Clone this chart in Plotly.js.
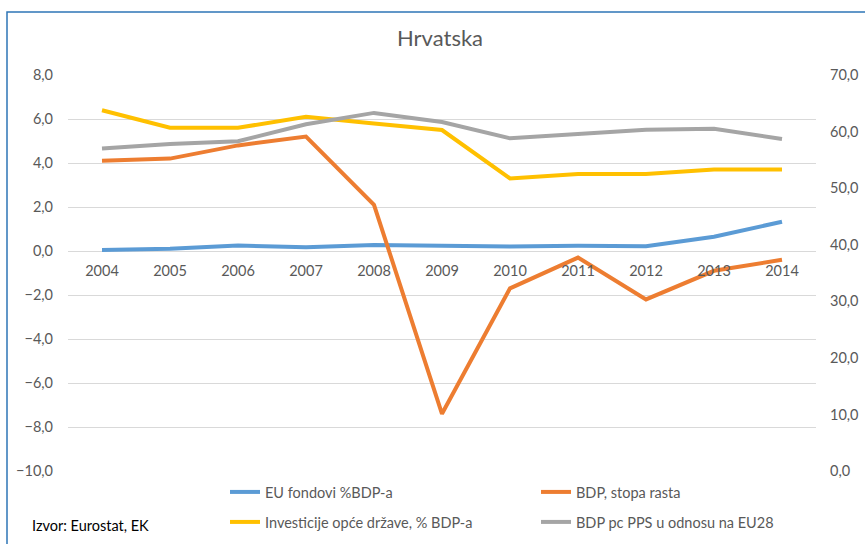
<!DOCTYPE html>
<html>
<head>
<meta charset="utf-8">
<script src="https://cdn.plot.ly/plotly-3.0.1.min.js"></script>
<style>html,body{margin:0;padding:0;background:#fff;}#chart{width:865px;height:544px;}</style>
</head>
<body>
<div id="chart"></div>
<script>
const years = ['2004','2005','2006','2007','2008','2009','2010','2011','2012','2013','2014'];
const euFondovi = [0.05,0.1,0.25,0.17,0.27,0.23,0.2,0.24,0.22,0.65,1.33];
const bdpRast = [4.1,4.2,4.8,5.2,2.1,-7.4,-1.7,-0.3,-2.2,-0.9,-0.4];
const investicije = [6.4,5.6,5.6,6.1,5.8,5.5,3.3,3.5,3.5,3.7,3.7];
const bdpPPS = [57.0,57.8,58.3,61.3,63.3,61.7,58.8,59.6,60.3,60.5,58.7];
const names = ['EU fondovi %BDP-a','BDP, stopa rasta','Investicije opće države, % BDP-a','BDP pc PPS u odnosu na EU28'];
const colors = ['#5b9bd5','#ed7d31','#ffc000','#a5a5a5'];

const font = 'Lato, "Open Sans", sans-serif';
const traces = [
  {x: years, y: euFondovi, name: names[0], yaxis: 'y', legend: 'legend'},
  {x: years, y: bdpRast, name: names[1], yaxis: 'y', legend: 'legend'},
  {x: years, y: investicije, name: names[2], yaxis: 'y', legend: 'legend2'},
  {x: years, y: bdpPPS, name: names[3], yaxis: 'y2', legend: 'legend2'}
].map((t, i) => Object.assign({type: 'scatter', mode: 'lines', line: {color: colors[i], width: 4}}, t));

const legendCommon = {orientation: 'h', x: (225 - 68) / 748, xanchor: 'left', yanchor: 'middle',
  entrywidth: 266, font: {family: font, size: 14.5, color: '#595959'}, bgcolor: 'rgba(0,0,0,0)', traceorder: 'normal'};

const layout = {
  width: 865, height: 544,
  margin: {l: 68, r: 49, t: 75, b: 73, autoexpand: false},
  paper_bgcolor: '#fff', plot_bgcolor: '#fff',
  separators: ',.',
  font: {family: font, color: '#595959', size: 14},
  title: {text: 'Hrvatska', x: 440 / 865, xanchor: 'center', y: 1 - 38 / 544, yanchor: 'middle', font: {family: font, size: 22, color: '#595959'}},
  showlegend: true,
  xaxis: {type: 'category', range: [-0.5, 10.5], anchor: 'free', position: 10/18, showgrid: false, zeroline: false,
    showline: false, ticks: '', tickfont: {size: 14.5, color: '#595959'}, ticklabelstandoff: 9},
  yaxis: {range: [-10, 8], dtick: 2, tick0: 0, tickformat: '.1f', showgrid: true, gridcolor: '#d9d9d9', gridwidth: 1,
    zeroline: false, showline: false, ticks: '', ticklabelstandoff: 14, tickfont: {size: 14.5, color: '#595959'}},
  yaxis2: {range: [0, 70], dtick: 10, tick0: 0, tickformat: '.1f', overlaying: 'y', side: 'right', showgrid: false,
    zeroline: false, showline: false, ticks: '', ticklabelstandoff: 13, tickfont: {size: 14.5, color: '#595959'}},
  legend: Object.assign({}, legendCommon, {y: (471 - 492) / 396}),
  legend2: Object.assign({}, legendCommon, {y: (471 - 522) / 396}),
  shapes: [{type: 'rect', xref: 'paper', yref: 'paper', x0: (7 - 68) / 748, x1: 2, y0: -2, y1: (471 - 12) / 396,
    line: {color: '#2e75b6', width: 1.5}, fillcolor: 'rgba(0,0,0,0)', layer: 'below'}],
  annotations: [{text: 'Izvor: Eurostat, EK', xref: 'paper', yref: 'paper', x: (30 - 68) / 748, y: (471 - 525) / 396,
    xanchor: 'left', yanchor: 'middle', showarrow: false, font: {family: font, size: 14.5, color: '#000'}}]
};

Plotly.newPlot('chart', traces, layout, {displayModeBar: false, staticPlot: true});
</script>
</body>
</html>
